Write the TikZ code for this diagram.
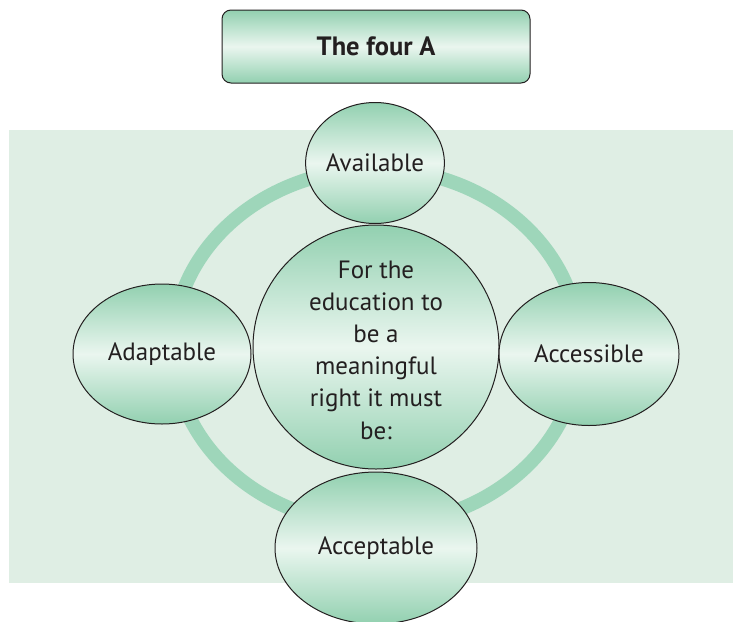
\documentclass[tikz,border=0pt]{standalone}
\usepackage{fontspec}
\setmainfont{PT Sans}
\usetikzlibrary{shapes.geometric}
\definecolor{bgGreen}{RGB}{223,238,228}
\definecolor{ringGreen}{RGB}{158,214,186}
\definecolor{darkG}{RGB}{146,208,176}
\definecolor{lightG}{RGB}{234,246,239}
\definecolor{edge}{RGB}{35,31,32}
\tikzset{
  bubble/.style={ellipse, draw=edge, line width=1pt, inner sep=0pt,
    top color=darkG, bottom color=darkG, middle color=lightG},
  lbl/.style={font=\fontsize{25}{32.2}\selectfont, text=edge, align=center},
}
\begin{document}
\begin{tikzpicture}[x=1pt,y=-1pt]
\useasboundingbox (0,0) rectangle (733,621);
\fill[bgGreen] (9,130) rectangle (733,583);
\draw[ringGreen, line width=14pt] (376,347) ellipse [x radius=203, y radius=178];
\node[bubble, minimum width=246pt, minimum height=244pt] (center) at (376,347) {};
\node[lbl] (ctext) at (376,350) {For the\\education to\\be a\\meaningful\\right it must\\be:};
\node[bubble, minimum width=135pt, minimum height=121pt, lbl] (avail) at (375,163) {Available};
\node[bubble, minimum width=178pt, minimum height=140pt, lbl] (adapt) at (162,354) {Adaptable};
\node[bubble, minimum width=180pt, minimum height=143pt, lbl] (access) at (589,354) {Accessible};
\node[bubble, minimum width=202pt, minimum height=152pt, lbl] (accept) at (376,548) {Acceptable};
\node[draw=edge, line width=1pt, rounded corners=9pt, minimum width=308pt, minimum height=73pt,
  top color=darkG, bottom color=darkG, middle color=lightG,
  font=\bfseries\fontsize{26.5}{30}\selectfont, text=edge] (title) at (376,46.5) {The four A};
\end{tikzpicture}
\end{document}
